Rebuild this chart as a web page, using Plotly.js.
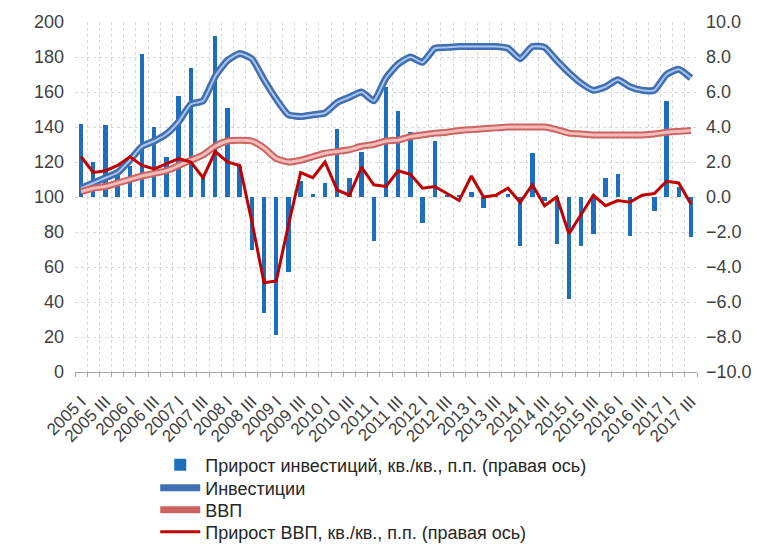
<!DOCTYPE html>
<html>
<head>
<meta charset="utf-8">
<script src="https://cdn.plot.ly/plotly-3.0.1.min.js"></script>
<style>
html,body{margin:0;padding:0;background:#fff;}
#chart{width:762px;height:544px;}
</style>
</head>
<body>
<div id="chart"></div>
<script>
// Quarters 2005 I – 2017 III
const quarters = [
 "2005 I","2005 II","2005 III","2005 IV","2006 I","2006 II","2006 III","2006 IV",
 "2007 I","2007 II","2007 III","2007 IV","2008 I","2008 II","2008 III","2008 IV",
 "2009 I","2009 II","2009 III","2009 IV","2010 I","2010 II","2010 III","2010 IV",
 "2011 I","2011 II","2011 III","2011 IV","2012 I","2012 II","2012 III","2012 IV",
 "2013 I","2013 II","2013 III","2013 IV","2014 I","2014 II","2014 III","2014 IV",
 "2015 I","2015 II","2015 III","2015 IV","2016 I","2016 II","2016 III","2016 IV",
 "2017 I","2017 II","2017 III"
];
// tick labels (every second quarter)
const tickLabels = quarters.map(q => (q.endsWith(" I") || q.endsWith(" III")) ? q : "");

// Прирост инвестиций, кв./кв., п.п. (правая ось)
const invGrowth = [
 4.2, 2.0, 4.1, 1.5, 1.8, 8.2, 4.0, 2.3, 5.8, 7.4, 1.2, 9.2, 5.1, 1.8, -3.0, -6.6,
 -7.9, -4.3, 0.9, 0.2, 0.8, 3.9, 1.1, 2.6, -2.5, 6.3, 4.9, 3.7, -1.5, 3.2, 0.1, 0.1,
 0.3, -0.6, 0.1, 0.2, -2.8, 2.5, -0.2, -2.7, -5.8, -2.8, -2.1, 1.1, 1.3, -2.2, 0.1, -0.8,
 5.5, 0.6, -2.3
];
// Инвестиции (левая ось)
const invIndex = [
 105, 108, 111, 114, 121, 129, 132, 136, 143, 153, 155, 169, 178, 182, 179, 167,
 156, 147, 146, 147, 148, 154, 157, 160, 155, 168, 176, 180, 177, 185, 185.5, 186,
 186, 186, 186, 185, 179, 186, 185.5, 178, 171, 165, 161, 163, 167, 163, 161, 161,
 170, 173, 168
];
// ВВП (левая ось)
const gdpIndex = [
 103, 105, 106, 108, 110, 112, 113.5, 115, 118, 121, 124, 129, 132, 132.5, 132, 128,
 122, 120, 121, 123, 125, 126, 127, 129, 130, 132, 132.5, 134.5, 135.5, 136.5, 137, 138,
 138.5, 139, 139.5, 140, 140, 140, 140, 138.5, 136.5, 136, 135.5, 135.5, 135.5, 135.5, 135.5, 136,
 137, 137.5, 138
];
// Прирост ВВП, кв./кв., п.п. (правая ось)
const gdpGrowth = [
 2.3, 1.4, 1.5, 1.8, 2.3, 1.8, 1.6, 1.9, 2.2, 2.0, 1.1, 2.6, 2.0, 1.8, -1.4, -4.9,
 -4.8, -1.6, 1.4, 1.1, 2.0, 0.4, 0.1, 1.7, 0.7, 0.6, 1.5, 1.3, 0.5, 0.6, 0.2, -0.2,
 1.2, 0.0, 0.1, 0.5, -0.3, 0.7, -0.5, 0.0, -2.1, -1.0, 0.1, -0.5, -0.2, -0.3, 0.1, 0.2,
 0.9, 0.8, -0.4
];

const names = [
 "Прирост инвестиций, кв./кв., п.п. (правая ось)",
 "Инвестиции",
 "ВВП",
 "Прирост ВВП, кв./кв., п.п. (правая ось)"
];

const traces = [
 {type:"bar", x:quarters, y:invGrowth, yaxis:"y", name:names[0], legend:"legend",
  marker:{color:"#1c6fbe"}, width:0.36},
 {type:"scatter", mode:"lines", x:quarters, y:invIndex, yaxis:"y2", name:names[1], legend:"legend2",
  line:{color:"#3f6fb2", width:7, shape:"spline", smoothing:0.5}},
 {type:"scatter", mode:"lines", x:quarters, y:invIndex, yaxis:"y2", showlegend:false, hoverinfo:"skip",
  line:{color:"#a9c5ec", width:2, shape:"spline", smoothing:0.5}},
 {type:"scatter", mode:"lines", x:quarters, y:gdpIndex, yaxis:"y2", name:names[2], legend:"legend3",
  line:{color:"#cc6461", width:7, shape:"spline", smoothing:0.5}},
 {type:"scatter", mode:"lines", x:quarters, y:gdpIndex, yaxis:"y2", showlegend:false, hoverinfo:"skip",
  line:{color:"#f1bcba", width:3, shape:"spline", smoothing:0.5}},
 {type:"scatter", mode:"lines", x:quarters, y:gdpGrowth, yaxis:"y3", name:names[3], legend:"legend4",
  line:{color:"#c00000", width:3}}
];

const tickFont = {family:"Liberation Sans, Arial, sans-serif", size:18, color:"#404040"};
const legendFont = {family:"Liberation Sans, Arial, sans-serif", size:18, color:"#262626"};
function legendAt(yPaper){
 return {orientation:"v", x:0.129, y:yPaper, xanchor:"left", yanchor:"middle",
   font:legendFont, bgcolor:"rgba(0,0,0,0)", itemwidth:40};
}

const layout = {
 width:762, height:544,
 margin:{l:75, r:65, t:22, b:172, autoexpand:false},
 paper_bgcolor:"#ffffff", plot_bgcolor:"#ffffff",
 showlegend:true,
 bargap:0,
 xaxis:{
  type:"category", automargin:false,
  tickmode:"array", tickvals:quarters, ticktext:tickLabels,
  tickson:"boundaries",
  tickangle:-45, tickfont:{family:"Liberation Sans, Arial, sans-serif", size:17, color:"#404040"},
  ticklabelstandoff:12,
  showgrid:true, gridcolor:"#d9d9d9", griddash:"dot", gridwidth:1,
  showline:true, linecolor:"#a6a6a6", linewidth:1,
  ticks:"outside", ticklen:4, tickcolor:"#a6a6a6",
  range:[-0.5, 50.5]
 },
 yaxis:{
  side:"right", range:[-10,10], dtick:2, tick0:0, tickformat:".1f", automargin:false,
  tickfont:tickFont, showgrid:true, gridcolor:"#d9d9d9", griddash:"dot",
  zeroline:false, showline:false, ticks:"", ticklabelstandoff:8
 },
 yaxis2:{
  side:"left", overlaying:"y", range:[0,200], dtick:20, tick0:0, automargin:false,
  tickfont:tickFont, showgrid:false, zeroline:false, showline:false, ticks:"", ticklabelstandoff:10
 },
 yaxis3:{
  overlaying:"y", side:"right", range:[-10,10], visible:false, showgrid:false, zeroline:false
 },
 legend: legendAt(-0.2657),
 legend2: legendAt(-0.3314),
 legend3: legendAt(-0.3943),
 legend4: legendAt(-0.4571)
};

Plotly.newPlot("chart", traces, layout, {displayModeBar:false, staticPlot:true});
</script>
</body>
</html>
